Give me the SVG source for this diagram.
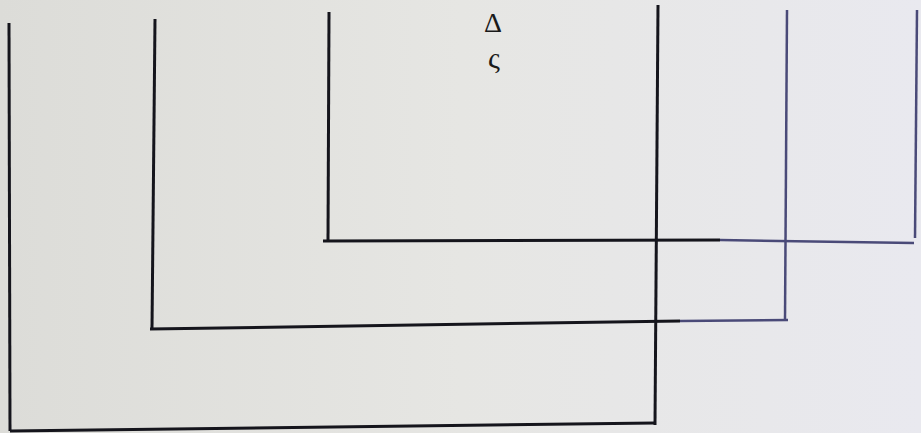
<svg xmlns="http://www.w3.org/2000/svg" width="921" height="433" viewBox="0 0 921 433">
<defs>
<linearGradient id="bg" x1="0" y1="0" x2="1" y2="0">
<stop offset="0" stop-color="#dcdcd8"/>
<stop offset="0.5" stop-color="#e6e6e3"/>
<stop offset="1" stop-color="#e9e9ef"/>
</linearGradient>
</defs>
<style>
.l{fill:none;stroke:#15151c;stroke-width:3;stroke-linecap:butt}
.f{fill:none;stroke:#4a4a78;stroke-width:2.5;stroke-linecap:butt}
.t{font-family:"Liberation Serif","DejaVu Serif",serif;fill:#1a1a1a;text-anchor:middle}
</style>
<rect width="921" height="433" fill="url(#bg)"/>
<g id="connectors">
<g id="outer">
<line class="l" x1="9" y1="23" x2="10" y2="431"/>
<line class="l" x1="10" y1="431" x2="655" y2="423"/>
<line class="l" x1="658" y1="5" x2="655" y2="425"/>
</g>
<g id="middle">
<line class="l" x1="155" y1="19" x2="152" y2="329"/>
<line class="l" x1="150" y1="329" x2="680" y2="321"/>
<line class="f" x1="680" y1="321" x2="788" y2="320"/>
<line class="f" x1="787" y1="10" x2="785" y2="320"/>
</g>
<g id="inner">
<line class="l" x1="329" y1="12" x2="328" y2="240"/>
<line class="l" x1="323" y1="241" x2="720" y2="240"/>
<line class="f" x1="720" y1="240" x2="914" y2="243"/>
<line class="f" x1="917" y1="10" x2="915" y2="238"/>
</g>
</g>
<g id="label">
<text class="t" x="493" y="32" font-size="28">Δ</text>
<text class="t" x="494" y="68" font-size="30">ς</text>
</g>
</svg>
